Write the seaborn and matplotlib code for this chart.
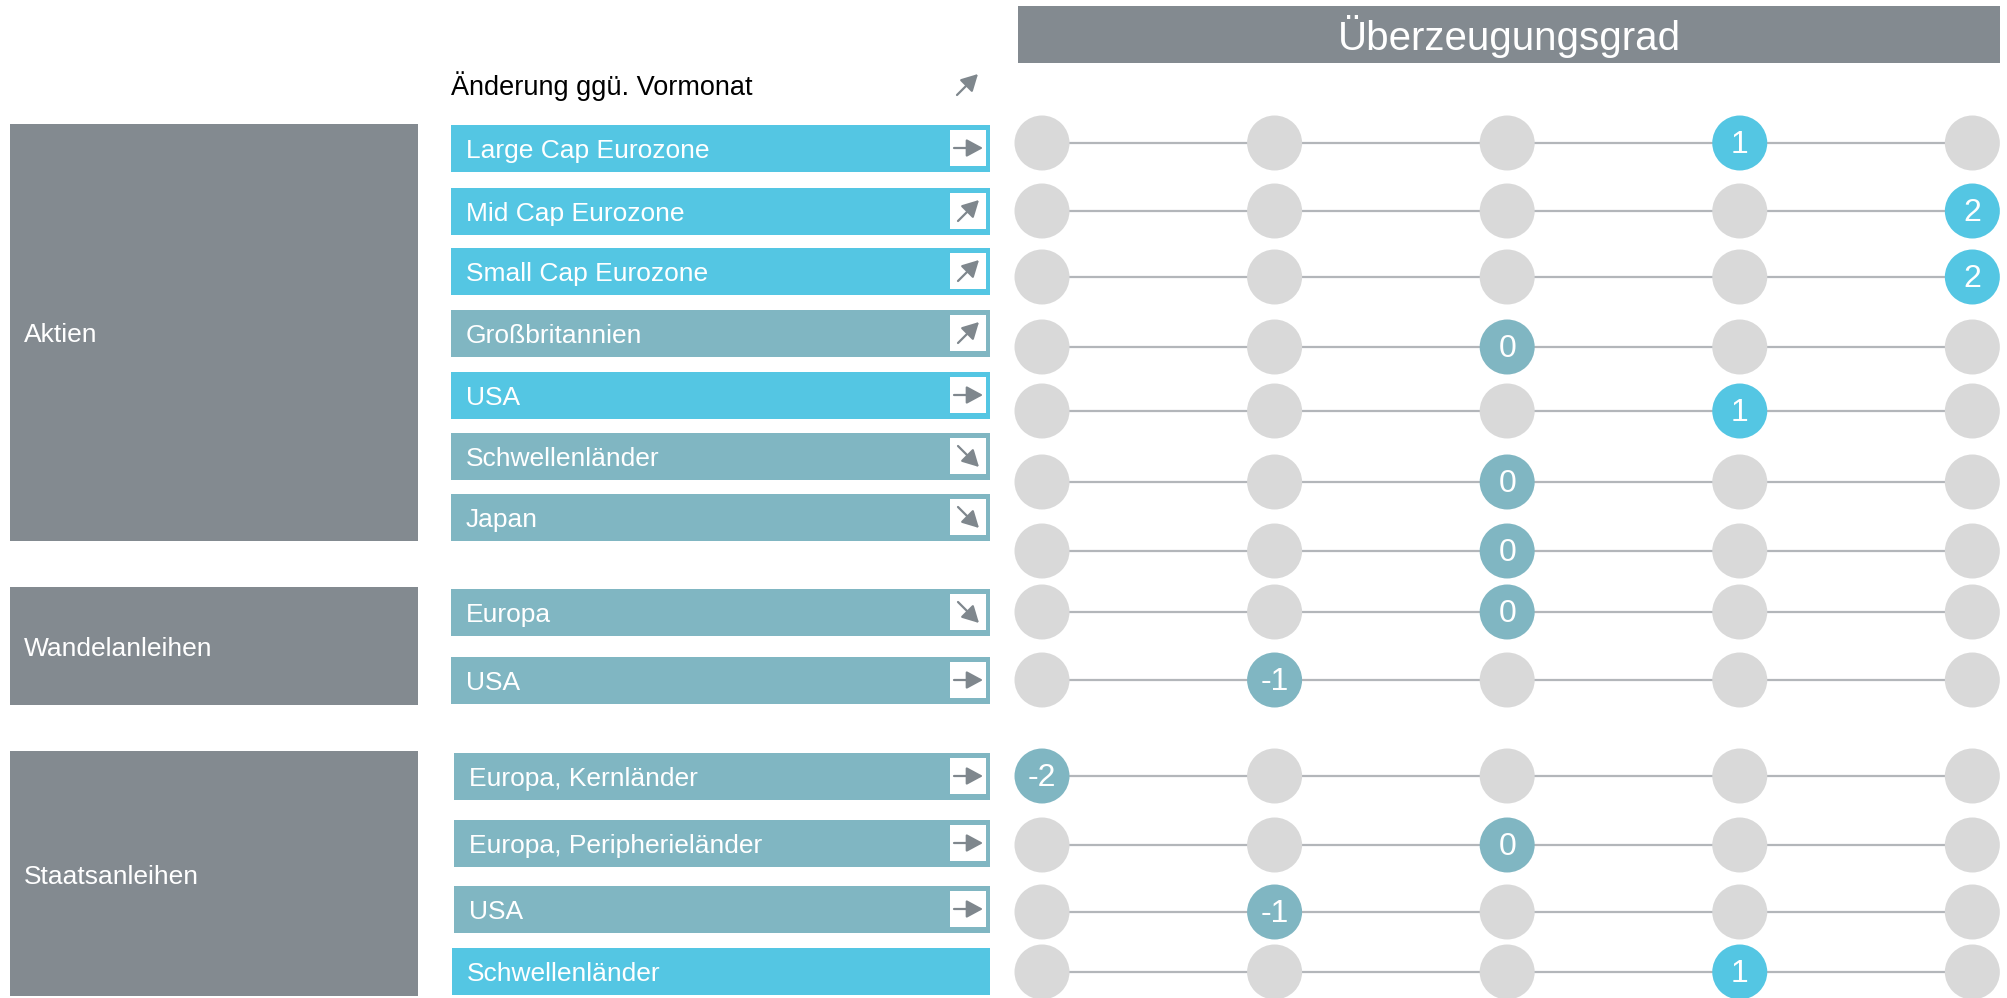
import numpy as np
import pandas as pd
import matplotlib.pyplot as plt
import seaborn as sns

# data
groups = ["Aktien", "Wandelanleihen", "Staatsanleihen"]
items = ["Large Cap Eurozone", "Mid Cap Eurozone", "Small Cap Eurozone",
         "Großbritannien", "USA", "Schwellenländer", "Japan",
         "Europa", "USA",
         "Europa, Kernländer", "Europa, Peripherieländer", "USA", "Schwellenländer"]
item_group = [0, 0, 0, 0, 0, 0, 0, 1, 1, 2, 2, 2, 2]
scores = [1, 2, 2, 0, 1, 0, 0, 0, -1, -2, 0, -1, 1]
trends = ["flat", "up", "up", "up", "flat", "down", "down",
          "down", "flat",
          "flat", "flat", "flat", None]
levels = [-2, -1, 0, 1, 2]

# layout in pixels (figure is 2007 x 998)
bar_y = [148, 211, 271, 333, 395, 456, 517, 612, 680, 776, 843, 909, 971]
dot_y = [143, 211, 277, 347, 411, 482, 551, 612, 680, 776, 845, 912, 972]
bar_x0 = [451] * 9 + [454, 454, 454, 452]
BAR_X1 = 990
BAR_H = 47
group_span = [(124, 541), (587, 705), (751, 996)]
GROUP_X0, GROUP_X1 = 10, 418

CYAN = "#54C6E3"
TEAL = "#80B6C2"
GREY = "#838A90"
DOT = "#D9D9D9"
LINE = "#B3B6BA"
ARROW = "#7F878D"

sns.set_theme(style="white")
plt.rcParams["font.family"] = ["Liberation Sans", "DejaVu Sans"]

fig = plt.figure(figsize=(20.07, 9.98), dpi=100)
ax = fig.add_axes([0, 0, 1, 1])
ax.set_xlim(0, 2007)
ax.set_ylim(998, 0)
ax.axis("off")

# group boxes on the left
for g, (top, bot) in zip(groups, group_span):
    ax.barh((top + bot) / 2, GROUP_X1 - GROUP_X0, left=GROUP_X0, height=bot - top,
            color=GREY, linewidth=0)
    ax.text(GROUP_X0 + 14, (top + bot) / 2 + 3, g, color="white", fontsize=19,
            va="center", ha="left")

# item bars, coloured by sign of the score
colors = [CYAN if s > 0 else TEAL for s in scores]
ax.barh(bar_y, [BAR_X1 - x0 for x0 in bar_x0], left=bar_x0, height=BAR_H,
        color=colors, linewidth=0)
for x0, y, name in zip(bar_x0, bar_y, items):
    ax.text(x0 + 15, y + 3, name, color="white", fontsize=19, va="center", ha="left")


def draw_arrow(cx, cy, kind):
    if kind == "flat":
        start, end = (cx - 14, cy), (cx + 15, cy)
    elif kind == "up":
        start, end = (cx - 10, cy + 10), (cx + 11, cy - 11)
    else:
        start, end = (cx - 10, cy - 10), (cx + 11, cy + 11)
    ax.annotate("", xy=end, xytext=start,
                arrowprops=dict(arrowstyle="-|>,head_length=0.5,head_width=0.27",
                                color=ARROW, lw=1.6, shrinkA=0, shrinkB=0,
                                mutation_scale=20))


# trend boxes
for y, t in zip(bar_y, trends):
    if t is None:
        continue
    ax.barh(y, 36, left=950, height=36, color="white", linewidth=0)
    draw_arrow(968, y, t)

# headers
ax.text(451, 86, "Änderung ggü. Vormonat", color="black", fontsize=19.5,
        va="center", ha="left")
draw_arrow(967, 85, "up")
ax.barh(34.5, 982, left=1018, height=57, color=GREY, linewidth=0)
ax.text(1509, 36, "Überzeugungsgrad", color="white", fontsize=29,
        va="center", ha="center")

# dot grid on its own axes, x in score units
ax_d = fig.add_axes([1010 / 2007, 0, 997 / 2007, 1])
ax_d.patch.set_alpha(0)
ax_d.hlines(dot_y, levels[0], levels[-1], color=LINE, lw=1.6, zorder=1)

rows = []
for y, s in zip(dot_y, scores):
    for lv in levels:
        if lv != s:
            state = "off"
        else:
            state = "pos" if s > 0 else "neg"
        rows.append({"level": lv, "ypos": y, "state": state})
df = pd.DataFrame(rows)
sns.scatterplot(data=df, x="level", y="ypos", hue="state",
                palette={"off": DOT, "pos": CYAN, "neg": TEAL},
                s=1568, linewidth=0, legend=False, ax=ax_d, zorder=3)
for y, s in zip(dot_y, scores):
    ax_d.text(s, y + 2, str(s), color="white", fontsize=23, va="center",
              ha="center", zorder=4)

ax_d.set_xlim(-2.1376, 2.149)
ax_d.set_ylim(998, 0)
ax_d.axis("off")

fig.savefig("out.png", dpi=100)
